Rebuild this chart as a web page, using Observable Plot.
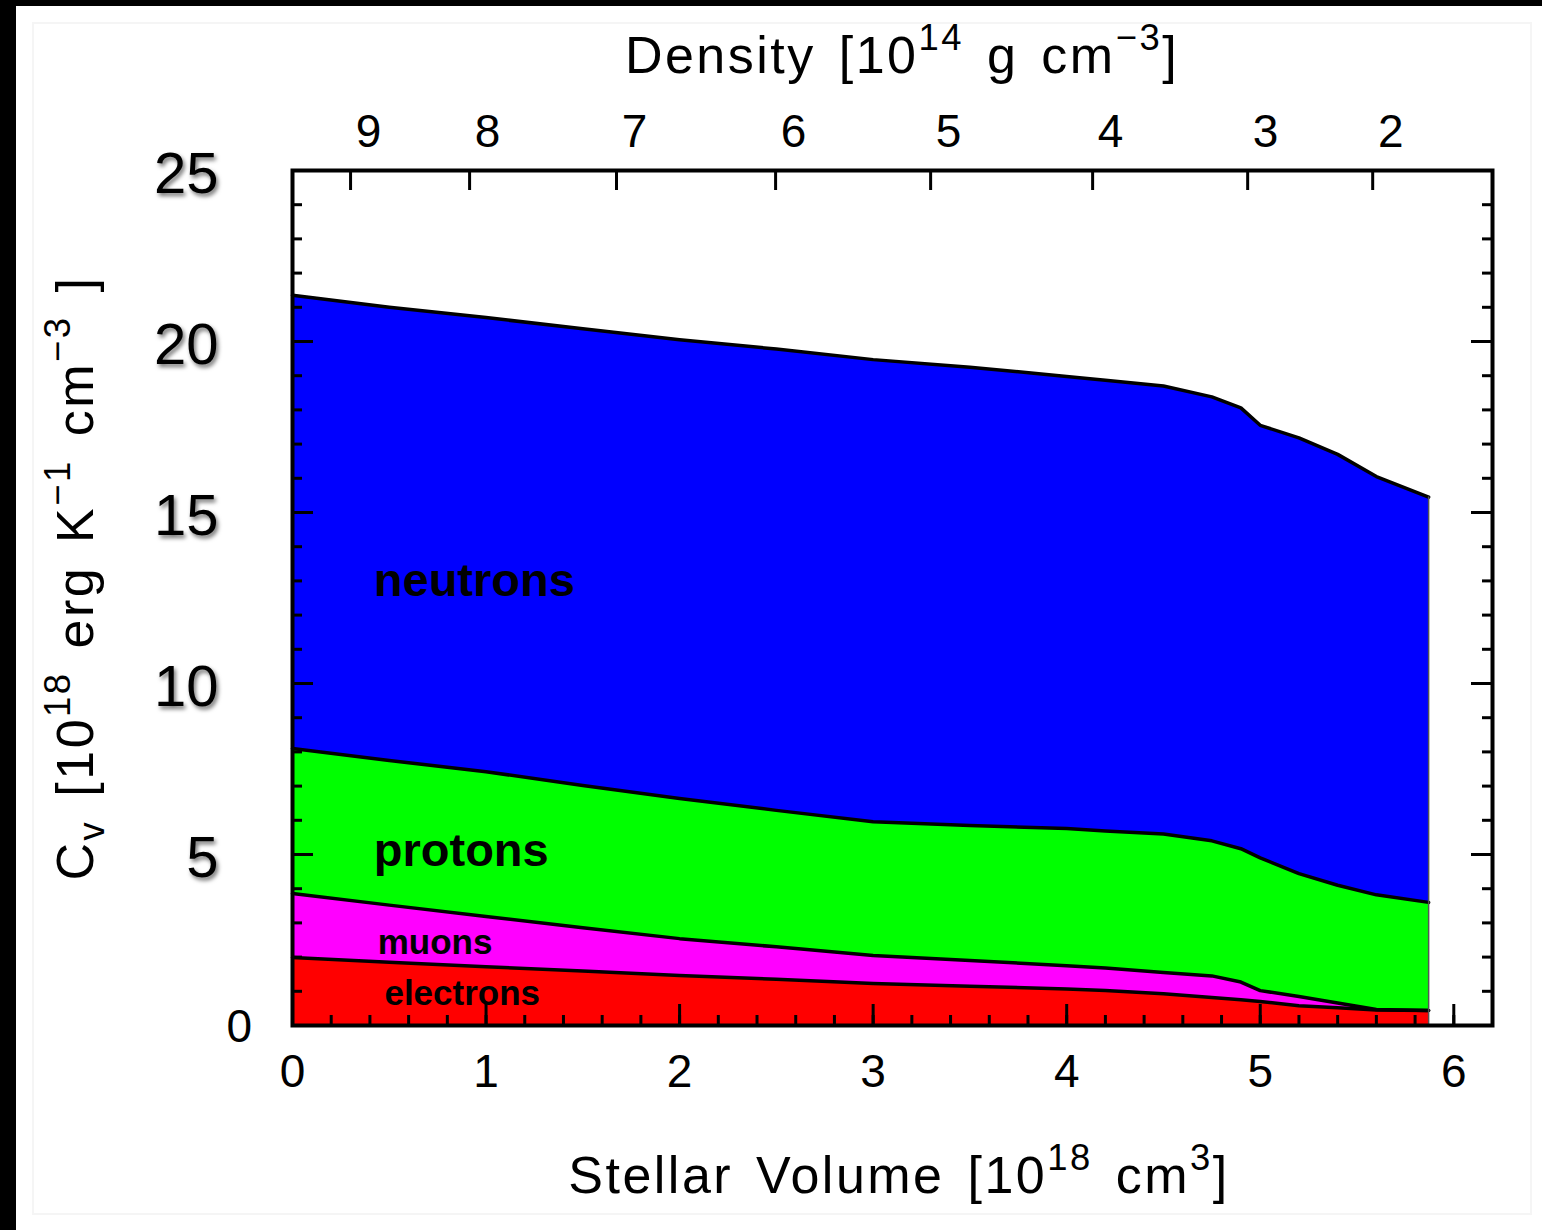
<!DOCTYPE html>
<html><head><meta charset="utf-8">
<script src="https://cdn.jsdelivr.net/npm/d3@7"></script>
<script src="https://cdn.jsdelivr.net/npm/@observablehq/plot@0.6"></script>
<style>
body{margin:0;background:#fff;}
#wrap{position:relative;width:1542px;height:1230px;overflow:hidden;background:#fff;font-family:"Liberation Sans",Arial,sans-serif;}
#wrap svg{position:absolute;left:0;top:0;}
.bar{position:absolute;background:#000;}
.faint{position:absolute;left:32px;top:22px;width:1500px;height:1193px;border:2px solid #f5f5f5;box-sizing:border-box;}
.ttl{position:absolute;font-size:52px;white-space:nowrap;color:#000;letter-spacing:2.5px;word-spacing:6px;line-height:1;transform:translate(-50%,-50%);}
.ttl sup{font-size:0.7em;vertical-align:baseline;position:relative;top:-0.62em;}
.ttl sub{font-size:0.7em;vertical-align:baseline;position:relative;top:0.3em;}
.rot{transform:translate(-50%,-50%) rotate(-90deg);}
g[aria-description="ylabels"]{filter:drop-shadow(2px 3px 2px rgba(0,0,0,0.55));}
</style>
</head><body>
<div id="wrap">
<div class="faint"></div>
<div id="chart"></div>
<div class="ttl" style="left:902px;top:55px;">Density [10<sup>14</sup> g cm<sup>−3</sup>]</div>
<div class="ttl" style="left:899px;top:1175px;">Stellar Volume [10<sup>18</sup> cm<sup>3</sup>]</div>
<div class="ttl rot" style="left:75px;top:578px;">C<sub>v</sub> [10<sup>18</sup> erg K<sup>−1</sup> cm<sup>−3</sup> ]</div>
<div class="bar" style="left:0;top:0;width:16px;height:1230px;"></div>
<div class="bar" style="left:0;top:0;width:1542px;height:6px;"></div>
</div>
<script>
// Stellar volume [10^18 cm^3]
const volume    = [0, 0.5, 1, 1.5, 2, 2.5, 3, 3.5, 4, 4.2, 4.5, 4.75, 4.9, 5.0, 5.2, 5.4, 5.6, 5.87];
// Heat capacity contributions [10^18 erg K^-1 cm^-3]
const electrons = [1.99, 1.85, 1.72, 1.59, 1.46, 1.35, 1.23, 1.15, 1.07, 1.02, 0.93, 0.82, 0.75, 0.70, 0.58, 0.52, 0.45, 0.44];
const muons     = [1.87, 1.67, 1.47, 1.27, 1.08, 0.95, 0.82, 0.75, 0.68, 0.66, 0.62, 0.63, 0.52, 0.32, 0.27, 0.14, 0.02, 0.00];
const protons   = [4.24, 4.23, 4.23, 4.16, 4.10, 3.99, 3.91, 3.95, 4.01, 4.01, 4.05, 3.95, 3.90, 3.88, 3.59, 3.44, 3.35, 3.16];
const neutrons  = [13.25, 13.25, 13.28, 13.35, 13.41, 13.49, 13.51, 13.40, 13.22, 13.18, 13.10, 12.98, 12.89, 12.65, 12.74, 12.60, 12.23, 11.85];

const species = ["electrons", "muons", "protons", "neutrons"];
const colors  = ["#ff0000", "#ff00ff", "#00ff00", "#0000ff"];

const xTickLabels = [0, 1, 2, 3, 4, 5, 6];
const yTickLabels = [5, 10, 15, 20, 25];
const densityLabels   = [9, 8, 7, 6, 5, 4, 3, 2];
const densityAtVolume = [0.30, 0.915, 1.674, 2.496, 3.297, 4.134, 4.935, 5.581];

const bigLabels   = ["neutrons", "protons"];
const bigLabelX   = [0.42, 0.42];
const bigLabelY   = [13.0, 5.09];
const smallLabels = ["muons", "electrons"];
const smallLabelX = [0.44, 0.475];
const smallLabelY = [2.43, 0.94];

const series = [electrons, muons, protons, neutrons];
const data = species.flatMap((s, i) => volume.map((v, j) => ({volume: v, species: s, cv: series[i][j]})));
const lastTotal = series.reduce((a, s) => a + s[s.length - 1], 0);

const W = 1542, H = 1230, mL = 292, mR = 50, mT = 170, mB = 205;
const fW = W - mL - mR, fH = H - mT - mB;
const xDom = [0, 6.2], yDom = [0, 25];
const yMinor = d3.range(yDom[0], yDom[1] + 1, 1);
const yMajor = yMinor.filter(d => d % 5 === 0);
const xMinor = d3.range(0, 31).map(i => i / 5).filter(d => d <= xDom[1]);
const xMajor = xTickLabels;
const F = "Liberation Sans, Arial, sans-serif";

const chart = Plot.plot({
  width: W, height: H,
  marginLeft: mL, marginRight: mR, marginTop: mT, marginBottom: mB,
  style: {background: "transparent", fontFamily: F, overflow: "visible"},
  x: {domain: xDom, axis: null},
  y: {domain: yDom, axis: null},
  color: {domain: species, range: colors},
  marks: [
    Plot.areaY(data, {x: "volume", y: "cv", z: "species", fill: "species"}),
    Plot.lineY(data, Plot.stackY2({x: "volume", y: "cv", z: "species", stroke: "black", strokeWidth: 3.5})),
    Plot.ruleX([volume[volume.length - 1]], {x: d => d, y1: 0, y2: lastTotal, stroke: "#555", strokeWidth: 1.5}),
    // inward ticks
    Plot.tickY(yMinor, {y: d => d, insetRight: fW - 10, stroke: "black", strokeWidth: 3}),
    Plot.tickY(yMajor, {y: d => d, insetRight: fW - 21, stroke: "black", strokeWidth: 3}),
    Plot.tickY(yMinor, {y: d => d, insetLeft: fW - 10, stroke: "black", strokeWidth: 3}),
    Plot.tickY(yMajor, {y: d => d, insetLeft: fW - 21, stroke: "black", strokeWidth: 3}),
    Plot.tickX(xMinor, {x: d => d, insetTop: fH - 10, stroke: "black", strokeWidth: 3}),
    Plot.tickX(xMajor, {x: d => d, insetTop: fH - 21, stroke: "black", strokeWidth: 3}),
    Plot.tickX(densityAtVolume, {x: d => d, insetBottom: fH - 20, stroke: "black", strokeWidth: 3}),
    Plot.frame({stroke: "black", strokeWidth: 4}),
    // tick labels
    Plot.text(xTickLabels, {x: d => d, text: d => String(d), frameAnchor: "bottom", dy: 61, fontSize: 46, fill: "black"}),
    Plot.text(densityLabels, {x: (d, i) => densityAtVolume[i], text: d => String(d), frameAnchor: "top", dy: -56, dx: 18, fontSize: 46, fill: "black"}),
    Plot.text(yTickLabels, {y: d => d, text: d => String(d), frameAnchor: "left", textAnchor: "end", dx: -74, dy: 4, fontSize: 58, fill: "black", ariaDescription: "ylabels"}),
    Plot.text([0], {y: d => d, text: d => String(d), frameAnchor: "left", dx: -66, dy: 2, fontSize: 46, fill: "black"}),
    // species labels
    Plot.text(bigLabels, {x: (d, i) => bigLabelX[i], y: (d, i) => bigLabelY[i], text: d => d, textAnchor: "start", fontSize: 47, fontWeight: "bold", fill: "black"}),
    Plot.text(smallLabels, {x: (d, i) => smallLabelX[i], y: (d, i) => smallLabelY[i], text: d => d, textAnchor: "start", fontSize: 35, fontWeight: "bold", fill: "black"})
  ]
});
document.getElementById("chart").appendChild(chart);
</script>
</body></html>
